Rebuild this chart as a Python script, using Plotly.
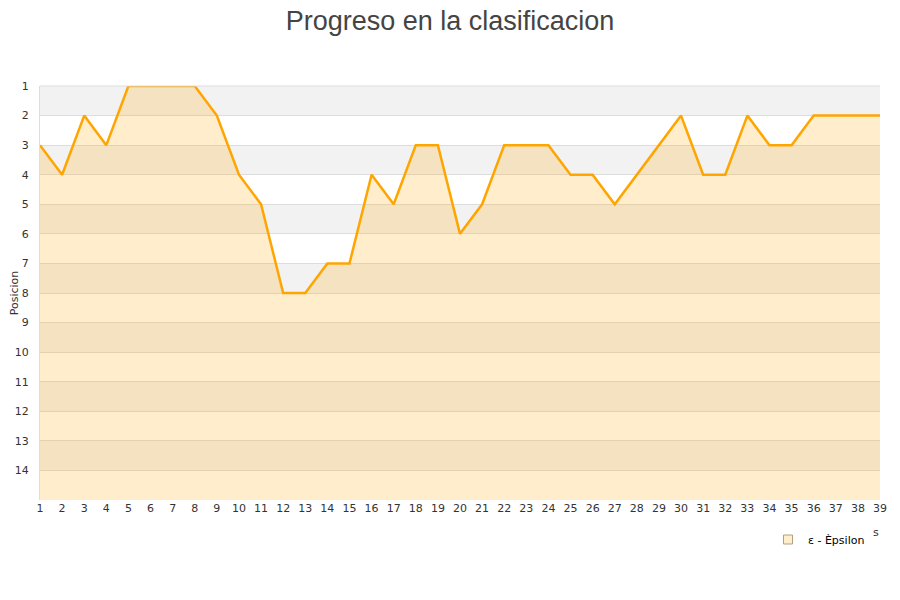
import plotly.graph_objects as go

jornadas = list(range(1, 40))
posicion = [3, 4, 2, 3, 1, 1, 1, 1, 2, 4, 5, 8, 8, 7, 7, 4, 5, 3, 3, 6,
            5, 3, 3, 3, 4, 4, 5, 4, 3, 2, 4, 4, 2, 3, 3, 2, 2, 2, 2]
y_ticks = list(range(1, 15))
equipo = "ε - Èpsilon"
titulo = "Progreso en la clasificacion"
y_max = 15

fig = go.Figure()

# alternating bands
for k in range(1, 15, 2):
    fig.add_shape(type="rect", xref="paper", yref="y", x0=0, x1=1, y0=k, y1=k + 1,
                  fillcolor="#f2f2f2", line_width=0, layer="below")

fig.add_trace(go.Scatter(x=jornadas, y=[y_max] * len(jornadas), mode="lines",
                         line=dict(width=0), showlegend=False, hoverinfo="skip"))
fig.add_trace(go.Scatter(x=jornadas, y=posicion, mode="lines", fill="tonexty",
                         fillcolor="rgba(255,165,0,0.2)",
                         line=dict(color="#ffa500", width=2.5),
                         showlegend=False, name=equipo))
fig.add_trace(go.Scatter(x=[None], y=[None], mode="markers", name=equipo,
                         marker=dict(symbol="square", size=9, color="#ffedcc",
                                     line=dict(color="#b0a080", width=1))))

# page body has an 8px margin: compensate
fig.update_layout(
    width=900, height=600,
    paper_bgcolor="white", plot_bgcolor="white",
    margin=dict(l=32, r=28, t=78, b=108, autoexpand=False),
    title=dict(text=titulo, x=(450 - 8) / 900, xanchor="center", y=1 - 13 / 600,
               yanchor="middle", yref="container",
               font=dict(family="Liberation Sans, Arial", size=27, color="#444")),
    font=dict(family="DejaVu Sans", size=11, color="#333"),
    xaxis=dict(range=[1, 39], tickvals=jornadas, ticktext=[str(j) for j in jornadas],
               showgrid=False, zeroline=False, showline=False, ticks="",
               automargin=False,
               tickfont=dict(size=11, color="#333")),
    yaxis=dict(range=[y_max, 1], tickvals=y_ticks, ticktext=[str(t) for t in y_ticks],
               showgrid=True, gridcolor="#dddddd", gridwidth=1, zeroline=False,
               showline=True, linecolor="#dddddd", mirror=False, ticks="",
               ticklabelstandoff=8, automargin=False,
               title=dict(text="Posicion", font=dict(size=11, color="#333"), standoff=4),
               tickfont=dict(size=11, color="#333")),
    legend=dict(x=(786 - 40 - 18) / 840, y=-25 / 414, xanchor="left", yanchor="top",
                orientation="h",
                font=dict(size=11, color="#000"), bgcolor="rgba(0,0,0,0)"),
    showlegend=True,
)
fig.add_shape(type="line", xref="paper", yref="paper", x0=0, x1=1, y0=1, y1=1,
              line=dict(color="#dddddd", width=1))
fig.add_annotation(xref="x domain", yref="y domain", x=(876 - 40) / 840,
                   y=-(532 - 500) / 414, xanchor="center", yanchor="middle",
                   text="s", showarrow=False)

fig.write_html("out.html")
